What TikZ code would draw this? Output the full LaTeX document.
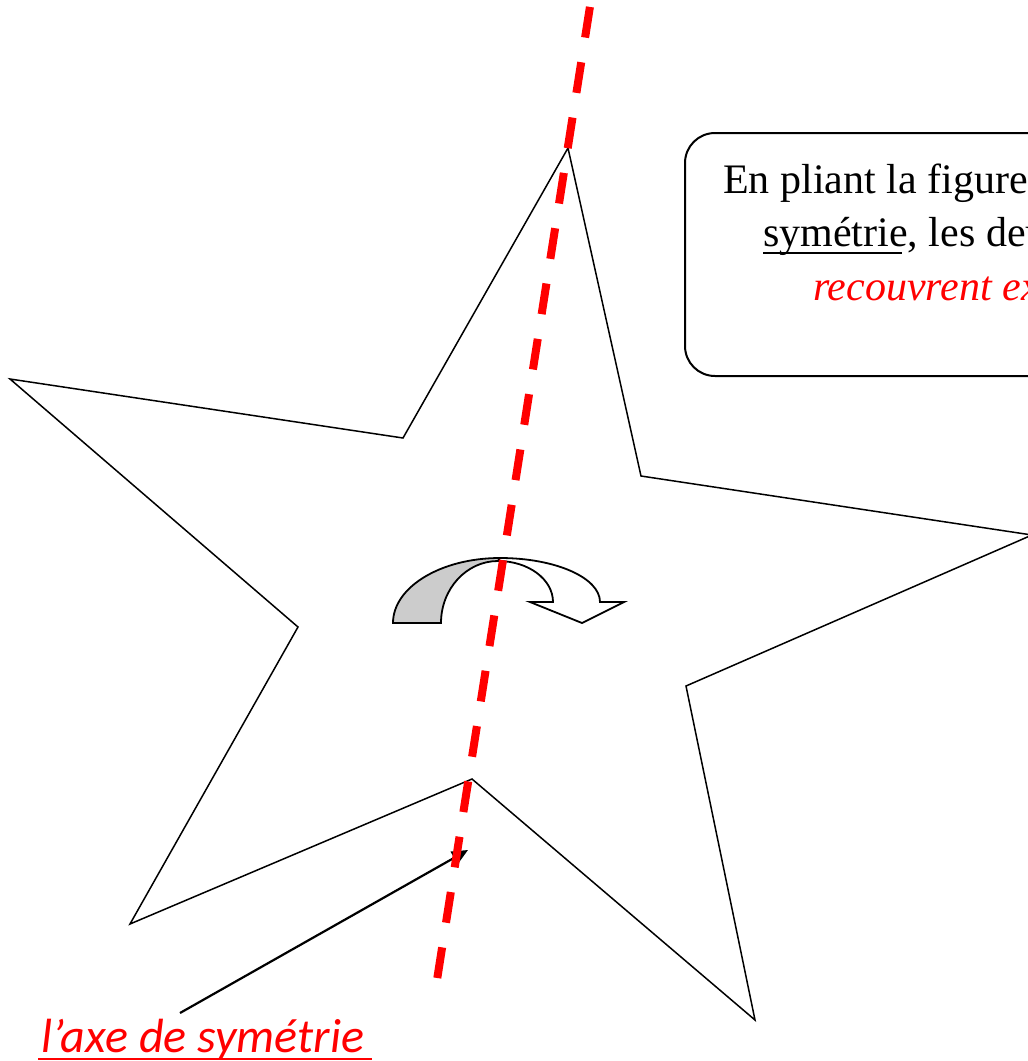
\documentclass[tikz,border=0pt]{standalone}
\usepackage{fontspec}
\setmainfont{Liberation Serif}
\newfontfamily\labelfont{Carlito}
\usetikzlibrary{arrows.meta}
\definecolor{foldgray}{RGB}{204,204,204}
\tikzset{
  starline/.style={draw=black, line width=1.5pt, line join=miter},
  boxline/.style={draw=black, line width=2pt, rounded corners=30pt},
  axisline/.style={draw=red, line width=8pt, dash pattern=on 31pt off 25pt, dash phase=49pt},
  foldarrow/.style={draw=black, line width=1.8pt, line join=miter},
  pointer/.style={draw=black, line width=2.2pt, -{Triangle[length=16pt,width=14pt]}},
  boxtext/.style={inner sep=0pt, anchor=base west, font=\fontsize{42}{50}\selectfont},
  labeltext/.style={inner sep=0pt, anchor=base west, text=red, font=\labelfont\itshape\fontsize{48}{56}\selectfont}
}
\begin{document}
\begin{tikzpicture}[x=1pt,y=-1pt]
\useasboundingbox (0,0) rectangle (1028,1061);
\clip (0,0) rectangle (1028,1061);
\fill[white] (0,0) rectangle (1028,1061);

% star
\draw[starline] (568,148) -- (641,476) -- (1032,535) -- (686,686) -- (755,1020)
  -- (472,779) -- (130,924) -- (298,627) -- (10,379) -- (403,438) -- cycle;

% text box
\draw[boxline] (685,133) rectangle (1140,376);
\node[boxtext] (l1) at (723,193) {En pliant la figure};
\node[boxtext] (l2) at (763,246) {symétrie, les deu};
\node[boxtext, text=red, font=\itshape\fontsize{42}{50}\selectfont] (l3) at (813,300) {recouvrent ex};
\draw[line width=2pt] (763,253) -- (902,253);

% folding arrow
\filldraw[foldarrow, fill=foldgray] (393,623) arc[start angle=180, end angle=270, x radius=107, y radius=65]
  -- (498,561) arc[start angle=270, end angle=180, x radius=57, y radius=62] -- cycle;
\filldraw[foldarrow, fill=white] (500,558) arc[start angle=270, end angle=360, x radius=100, y radius=44]
  -- (624,602) -- (582,623) -- (530,602) -- (553,602)
  arc[start angle=0, end angle=-90, x radius=55, y radius=41] -- cycle;

% label and pointer
\node[labeltext] (lab) at (41,1052) {l’axe de symétrie};
\draw[red, line width=2pt] (lab.base west) ++(-3,7) -- ++(334,0);
\coordinate (pstart) at (180,1013);
\coordinate (pend) at (468,850);
\draw[pointer] (pstart) -- (pend);

% axis of symmetry
\coordinate (axtop) at (591,0);
\coordinate (axbot) at (437,980);
\draw[axisline] (axtop) -- (axbot);
\end{tikzpicture}
\end{document}
